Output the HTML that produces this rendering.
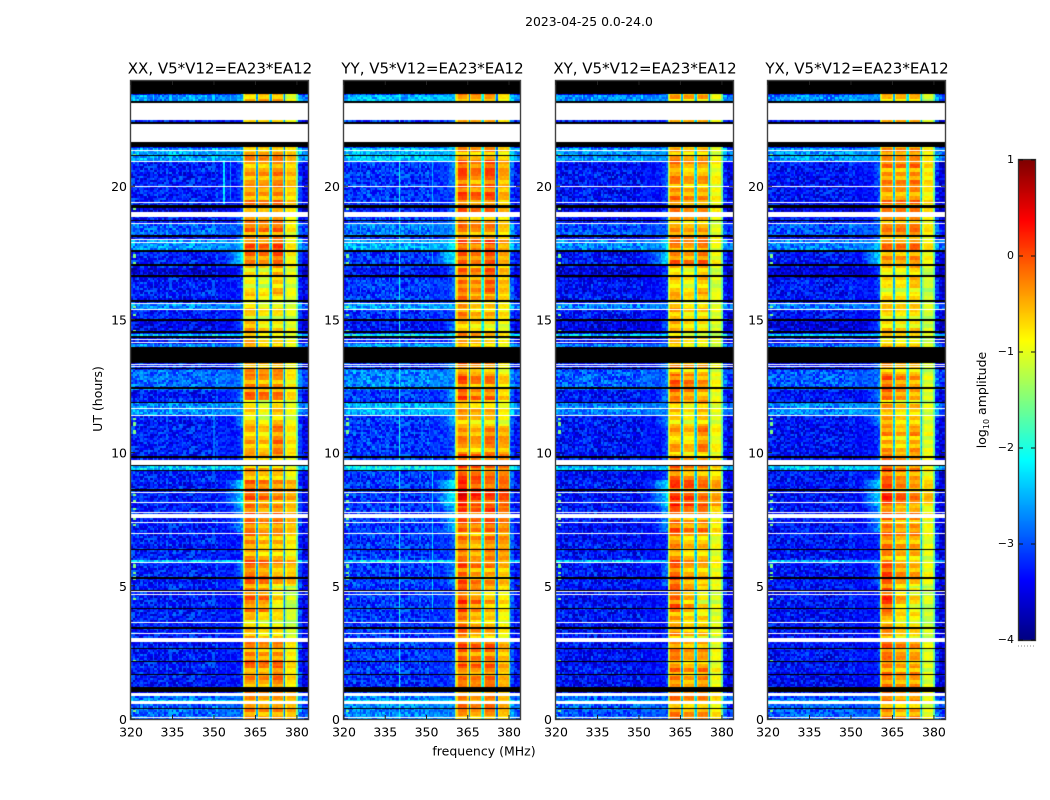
<!DOCTYPE html>
<html>
<head>
<meta charset="utf-8">
<title>2023-04-25 waterfall</title>
<style>
html,body{margin:0;padding:0;background:#fff;}
#figure{position:relative;width:1050px;height:800px;overflow:hidden;background:#fff;font-family:"DejaVu Sans","Liberation Sans",sans-serif;}
canvas{position:absolute;display:block;}
svg{position:absolute;left:0;top:0;}
text{font-family:"DejaVu Sans","Liberation Sans",sans-serif;fill:#000;}
</style>
</head>
<body>
<div id="figure">
<svg id="overlay" width="1050" height="800">
<text x="589" y="26" font-size="12.4" text-anchor="middle">2023-04-25 0.0-24.0</text>
<text x="484" y="755.5" font-size="12.5" text-anchor="middle">frequency (MHz)</text>
<text transform="translate(102,399) rotate(-90)" font-size="12.5" text-anchor="middle">UT (hours)</text>
<text transform="translate(986,400) rotate(-90)" font-size="12.5" text-anchor="middle">log<tspan font-size="8" dy="3">10</tspan><tspan dy="-3"> amplitude</tspan></text>
</svg>
</div>
<script>
/* ---------- chart data ---------- */
const panelNames = ["XX, V5*V12=EA23*EA12","YY, V5*V12=EA23*EA12","XY, V5*V12=EA23*EA12","YX, V5*V12=EA23*EA12"];
const freqTicks = [320,335,350,365,380];
const hourTicks = [0,5,10,15,20];
const cbarTicks = [1,0,-1,-2,-3,-4];

/* log10 amplitude of the four sub-bands, one row per UT hour (0..23) */
const xxBands = [[-.4,-.5,-.45,-.55],[-.35,-.4,-.2,-.7],[-.3,-.4,-.35,-.8],[-.6,-.8,-.8,-1.1],[-.25,-.35,-.8,-1.15],[-.15,-.3,-.5,-.55],[-.4,-.6,-.6,-.8],[-.15,-.35,-.25,-.5],[-.15,-.3,-.4,-.5],[-.5,-.6,-.6,-.9],[-.55,-.7,-.3,-.8],[-.7,-.95,-.6,-.95],[-.3,-.4,-.4,-.8],[-.5,-.6,-.5,-.9],[-.55,-.85,-.85,-1.0],[-.75,-.95,-.9,-1.05],[-.85,-1,-.6,-1.0],[-.15,-.25,-.05,-.8],[-.3,-.35,-.25,-.85],[-.35,-.4,-.3,-.65],[-.5,-.5,-.35,-.6],[-.45,-.45,-.4,-.6],[-.5,-.5,-.5,-.8],[-.7,-.55,-.55,-1.0]];
const yyBands = [[-.35,-.5,-.35,-.6],[-.3,-.35,-.25,-.55],[-.1,-.25,-.2,-.55],[-.2,-.5,-.6,-.9],[-.05,-.35,-.6,-.8],[-.1,-.35,-.4,-.6],[-.3,-.5,-.3,-.4],[-.1,-.25,-.1,-.3],[.35,.05,-.05,-.05],[0,-.1,-.2,-.25],[-.4,-.55,-.3,-.5],[-.45,-.6,-.6,-.9],[-.1,-.35,-.3,-.7],[-.3,-.4,-.5,-.9],[-.55,-.7,-.8,-.95],[-.35,-.6,-.6,-.8],[-.25,-.4,-.15,-.6],[-.15,-.3,-.1,-.5],[-.3,-.45,-.4,-.7],[-.15,-.3,-.2,-.6],[-.1,-.35,-.1,-.5],[-.35,-.45,-.35,-.7],[-.5,-.5,-.5,-.8],[-.4,-.4,-.4,-.8]];
const xyBands = [[-.35,-.5,-.45,-.8],[-.35,-.55,-.4,-.95],[-.3,-.5,-.45,-.95],[-.5,-.75,-.75,-1.05],[-.15,-.5,-.85,-1.05],[-.15,-.5,-.6,-.9],[-.35,-.6,-.6,-.95],[-.2,-.4,-.35,-.8],[.1,0,-.2,-.4],[-.25,-.45,-.5,-.75],[-.55,-.7,-.35,-.9],[-.65,-.85,-.6,-1.0],[-.15,-.3,-.45,-.9],[-.5,-.6,-.6,-1],[-.55,-.8,-.85,-1.05],[-.6,-.85,-.8,-1.05],[-.65,-.85,-.55,-1.05],[-.3,-.45,-.3,-.95],[-.4,-.5,-.45,-1],[-.35,-.5,-.5,-.9],[-.35,-.55,-.5,-.9],[-.45,-.6,-.55,-1],[-.6,-.6,-.6,-1],[-.6,-.6,-.6,-1.05]];
const yxBands = [[-.3,-.5,-.4,-.95],[-.3,-.45,-.4,-1.05],[-.25,-.45,-.5,-1.05],[-.45,-.75,-.8,-1.15],[-.05,-.65,-.9,-1.15],[-.1,-.45,-.55,-.95],[-.3,-.5,-.5,-1],[-.2,-.4,-.35,-.9],[.05,-.2,-.35,-.6],[-.2,-.45,-.5,-.95],[-.45,-.65,-.45,-1],[-.5,-.75,-.7,-1.1],[-.2,-.4,-.5,-1.05],[-.5,-.65,-.65,-1.15],[-.75,-.85,-.85,-1.15],[-.75,-.85,-.8,-1.15],[-.8,-.85,-.65,-1.15],[-.3,-.35,-.25,-.8],[-.4,-.4,-.35,-.85],[-.4,-.4,-.35,-.8],[-.35,-.4,-.3,-.75],[-.4,-.45,-.4,-.85],[-.6,-.6,-.6,-1.1],[-.6,-.6,-.6,-1.15]];
const panelBands = [xxBands,yyBands,xyBands,yxBands];

/* notch core levels between the sub-bands, and background offset, per panel */
const notchLevels = [[-2.6,-2.5,-2.8],[-2.7,-2.2,-2.9],[-2.5,-2.4,-2.7],[-2.4,-2.2,-2.5]];
const panelBgOffset = [0,.12,-.06,-.06];

/* sub-band frequency edges in MHz */
const bandStarts = [360.7,365.8,370.8,375.8];
const bandEnds = [365.1,370.0,375.0,379.9];

/* brighter / darker background time ranges: [startHour, endHour, level] */
const bgRows = [[0,.86,-2.85],[.56,.69,-2.4],[1.2,1.6,-3.3],[5.9,6.0,-2.35],[9.36,9.55,-2.35],[11.41,11.9,-2.65],[12.4,13.1,-2.85],[13.96,14.1,-2.7],[14.36,14.5,-2.3],[14.6,15,-3.45],[15.4,15.6,-2.7],[16.6,16.98,-3.5],[17.6,18,-2.65],[18.16,18.6,-2.9],[19,19.2,-3.5],[20.95,21.5,-2.55],[23.2,23.46,-2.6],[23.95,24,-2.7]];
const bgDefault = -3.25;

/* hump of emission just below the band, one value per UT hour */
const humpLevels = [-2.9,-3.1,-3.1,-3.1,-3.1,-2.8,-3.1,-2.6,-2.3,-2.9,-3,-2.7,-2.7,-2.7,-2.9,-3.1,-3,-2.3,-2.8,-3,-2.9,-2.6,-3.1,-2.7];

/* flagged time ranges */
const blackFlags = [[23.46,23.95],[23.12,23.2],[22.34,22.42],[21.5,21.67],[21.13,21.18],[19.18,19.28],[18.67,18.72],[18.1,18.16],[17.54,17.6],[16.98,17.07],[16.6,16.66],[15.66,15.72],[14.96,15.02],[14.51,14.57],[14.3,14.36],[13.35,13.96],[13.11,13.16],[12.4,12.46],[11.84,11.89],[9.83,9.89],[9.51,9.55],[9.32,9.36],[8.57,8.63],[6.35,6.4],[5.26,5.32],[4.81,4.85],[4.14,4.18],[3.4,3.46],[2.63,2.68],[2.14,2.19],[1.65,1.7],[1.04,1.21],[.38,.42]];
const whiteFlags = [[22.48,23.12],[21.67,22.34],[21.3,21.35],[20.9,20.94],[19.96,20],[19.36,19.4],[18.83,19.03],[18.57,18.61],[17.99,18.03],[17.86,17.9],[15.56,15.6],[15.36,15.4],[14.21,14.25],[14.1,14.14],[13.29,13.33],[13.2,13.24],[11.64,11.69],[11.37,11.41],[9.55,9.74],[8.5,8.54],[8.12,8.16],[7.74,7.78],[7.56,7.71],[7.37,7.41],[6.95,6.99],[5.85,5.9],[4.76,4.8],[4.66,4.7],[3.61,3.65],[3.2,3.24],[2.91,3.05],[.86,.99],[.56,.69],[.04,.08]];

/* narrow-band interference: [panel, freq, startHour, endHour, level] */
const rfiLines = [[1,339.9,0,24,-2.0],[1,352,4,10,-2.3],[1,352,17,21,-2.5],[0,353.5,19.4,21,-2.2],[0,356,19.5,21,-2.6],[0,350,9.9,12,-2.8]];
/* short bright marks along the first channels */
const edgeSpikeHours = [.3,2.2,4.5,5.3,5.5,5.75,7.3,7.5,7.9,8.2,8.4,10.8,11.1,11.3,14.6,15.2,15.5,17.1,17.4,19.2,21.2];

/* fine texture values read off as typical deviations */
const rowStripes = [.08,-.12,.22,.02,-.2,.1,.18,.06,-.22,-.05,.14,-.04,-.18,.16,.26,-.14,.1,-.25,.04,.15,.2,-.1,.12,-.06,-.3,.09,.03,.17,-.16,-.02,.24,-.11,.07,-.27,.13,.19,-.07,-.19,.01,.21,.11,-.23,.05,-.09,.16,-.13,.28,-.03,-.21,.1,.02,.18,-.17,.06,-.26,.23,-.01,.12,-.08,.15,-.15,.04,.2,-.24,.09,-.12,.14];
const cellGrain = [.22,-.31,.05,.4,-.18,-.42,.12,.3,-.05,-.27,.36,.02,-.38,.19,-.12,.46,-.22,.08,-.34,.26,-.08,.15,-.45,.33,-.02,.1,-.29,.38,-.16,.24,-.4];

/* ---------- geometry ---------- */
const panelLeft = [131,344,556,768];
const panelWidth = [177,176,177,177];
const plotTop = 81, plotBottom = 719;
const freqMin = 320, freqMax = 384, hourMin = 0, hourMax = 23.95;
const figure = document.getElementById('figure');
const overlay = document.getElementById('overlay');
const NS = 'http://www.w3.org/2000/svg';

function yScale(h){ return plotBottom-(h-hourMin)/(hourMax-hourMin)*(plotBottom-plotTop); }
function xScale(p,f){ return (f-freqMin)/(freqMax-freqMin)*panelWidth[p]; }
function clamp(v){ return v<0?0:v>1?1:v; }
function jet(v){
  const t=clamp((v+4)/5);
  const r=clamp(1.5-Math.abs(4*t-3)), g=clamp(1.5-Math.abs(4*t-2)), b=clamp(1.5-Math.abs(4*t-1));
  return 'rgb('+Math.round(r*255)+','+Math.round(g*255)+','+Math.round(b*255)+')';
}
function bgLevel(h){
  let lvl=bgDefault;
  for(const r of bgRows){ if(h>=r[0]&&h<r[1]) lvl=r[2]; }
  return lvl;
}
function cellValue(p,f,h,ci,ri){
  const hr=Math.min(23,Math.floor(h));
  const gc=Math.floor(ci/1.4);
  const grain=cellGrain[(gc*gc*7+ri*ri*11+gc*ri*3+p*5)%cellGrain.length];
  const stripe=rowStripes[(Math.floor(ri/2)+p*17)%rowStripes.length]*1.3;
  const levels=panelBands[p][hr];
  if(f<360.2||f>=380.5){
    let v=bgLevel(h)+panelBgOffset[p];
    if(f<360.2){
      const hump=humpLevels[hr]+(p===1?.2:0);
      const near=hump-(360.2-f)*.14;
      if(f>350&&near>v) v=near;
      v+=grain*(f>351?.6:1);
    }else{ v+=(f<382?.15:-.2)+grain*.8; }
    for(const l of rfiLines){
      if(l[0]===p&&Math.abs(f-l[1])<.25&&h>=l[2]&&h<l[3]) v=l[4]+grain*.4;
    }
    for(const s of edgeSpikeHours){
      if(f<322&&f>=320.7&&Math.abs(h-s)<.05) v=-1.5;
    }
    return v;
  }
  if(f<360.7) return -1.4+stripe*.3;
  if(f>=379.9) return -1.6+stripe*.3;
  for(let b=0;b<4;b++){
    if(f>=bandStarts[b]&&f<bandEnds[b]){
      const lvl=levels[b];
      const nearEdge=(f-bandStarts[b]<.5||bandEnds[b]-f<.3);
      if(nearEdge) return Math.min(lvl-.25,-.7)+stripe*.35+grain*.15;
      return lvl+stripe*(b===3?.6:1)+grain*.15;
    }
  }
  for(let b=0;b<3;b++){
    if(f>=bandEnds[b]&&f<bandStarts[b+1]){
      const core=(bandEnds[b]+bandStarts[b+1])/2;
      if(Math.abs(f-core)<.25) return notchLevels[p][b]+grain*.4;
      return -1.7+grain*.3;
    }
  }
  return -1.5;
}
function svgEl(tag,attrs,parent){
  const el=document.createElementNS(NS,tag);
  for(const k in attrs) el.setAttribute(k,attrs[k]);
  (parent||overlay).appendChild(el);
  return el;
}

/* ---------- panels ---------- */
const chanStep=.5, rowStep=.0752;
panelNames.forEach(function(name,p){
  const cv=document.createElement('canvas');
  
  
  const W=panelWidth[p], H=plotBottom-plotTop;
  cv.width=W; cv.height=H;
  cv.style.left=panelLeft[p]+'px';
  cv.style.top=plotTop+'px';
  figure.insertBefore(cv,overlay);
  const ctx=cv.getContext('2d');
  let ri=0;
  for(let h=hourMin;h<hourMax;h+=rowStep,ri++){
    let ci=0;
    const y1=yScale(h+rowStep)-plotTop, y0=yScale(h)-plotTop;
    for(let f=freqMin;f<freqMax;f+=chanStep,ci++){
      ctx.fillStyle=jet(cellValue(p,f,h,ci,ri));
      const x0=xScale(p,f);
      ctx.fillRect(Math.floor(x0),Math.floor(y1),Math.ceil(xScale(p,f+chanStep)-x0)+1,Math.ceil(y0-y1)+1);
    }
  }
  function drawFlags(list,color){
    ctx.fillStyle=color;
    for(const b of list){
      const y=Math.round(yScale(b[1])-plotTop);
      const ht=Math.max(1,Math.round(yScale(b[0])-yScale(b[1])));
      ctx.fillRect(0,y,W,ht);
    }
  }
  drawFlags(whiteFlags,'#fff');
  drawFlags(blackFlags,'#000');

  const L=panelLeft[p], R=L+W;
  const group=svgEl('g',{});
  
  
  const title=svgEl('text',{x:L+W/2+.5,y:73.5,'font-size':'15','text-anchor':'middle'},group);
  
  
  title.textContent=name;
  const frame=svgEl('rect',{x:L-.5,y:plotTop-.5,width:W+1,height:plotBottom-plotTop+1,fill:'none',stroke:'#444','stroke-width':'1.4'},group);
  
  
  freqTicks.forEach(function(t){
    const x=L+xScale(p,t);
    svgEl('line',{x1:x,x2:x,y1:plotBottom,y2:plotBottom-4,stroke:'#222','stroke-width':'1'},group);
    svgEl('line',{x1:x,x2:x,y1:plotTop,y2:plotTop+4,stroke:'#222','stroke-width':'1'},group);
    const lab=svgEl('text',{x:x,y:736.5,'font-size':'12.5','text-anchor':'middle'},group);
    
    
    lab.textContent=t;
  });
  hourTicks.forEach(function(t){
    const y=yScale(t);
    svgEl('line',{x1:L,x2:L+4,y1:y,y2:y,stroke:'#222','stroke-width':'1'},group);
    svgEl('line',{x1:R,x2:R-4,y1:y,y2:y,stroke:'#222','stroke-width':'1'},group);
    const lab=svgEl('text',{x:L-4,y:y+5,'font-size':'12.5','text-anchor':'end'},group);
    
    
    lab.textContent=t;
  });
});

/* ---------- colorbar ---------- */
const cbLeft=1019, cbWidth=16, cbTop=160, cbBottom=640, cbMin=-4, cbMax=1;
function cbScale(v){ return cbBottom-(v-cbMin)/(cbMax-cbMin)*(cbBottom-cbTop); }
const cb=document.createElement('canvas');


cb.width=cbWidth; cb.height=cbBottom-cbTop;
cb.style.left=cbLeft+'px'; cb.style.top=cbTop+'px';
figure.insertBefore(cb,overlay);
const cbx=cb.getContext('2d');
for(let i=0;i<cb.height;i++){
  cbx.fillStyle=jet(cbMax-(i/cb.height)*(cbMax-cbMin));
  cbx.fillRect(0,i,cbWidth,1);
}
const cbGroup=svgEl('g',{});


svgEl('rect',{x:cbLeft-.5,y:cbTop-.5,width:cbWidth+1,height:cbBottom-cbTop+1,fill:'none',stroke:'#333','stroke-width':'1.3'},cbGroup);
cbarTicks.forEach(function(t){
  const y=cbScale(t);
  svgEl('line',{x1:cbLeft,x2:cbLeft+4,y1:y,y2:y,stroke:'#111','stroke-width':'1'},cbGroup);
  svgEl('line',{x1:cbLeft+cbWidth,x2:cbLeft+cbWidth-4,y1:y,y2:y,stroke:'#111','stroke-width':'1'},cbGroup);
  const lab=svgEl('text',{x:1014,y:y+3,'font-size':'11','text-anchor':'end'},cbGroup);
  
  
  lab.textContent=String(t).replace('-','\u2212');
});
svgEl('line',{x1:cbLeft-1,x2:cbLeft+cbWidth,y1:646,y2:646,stroke:'#888','stroke-width':'1','stroke-dasharray':'1 2'},cbGroup);
</script>
</body>
</html>
